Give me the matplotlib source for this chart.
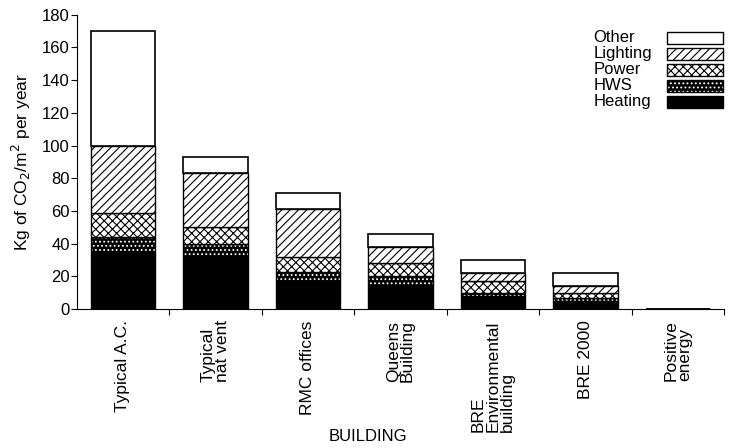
import numpy as np
import matplotlib.pyplot as plt
from matplotlib.patches import Rectangle

plt.rcParams['font.family'] = ['Liberation Sans', 'DejaVu Sans']

buildings = ['Typical A.C.', 'Typical\nnat vent', 'RMC offices', 'Queens\nBuilding',
             'BRE\nEnvironmental\nbuilding', 'BRE 2000', 'Positive\nenergy']
heating = [35, 32, 17, 15, 8, 5, 0]
hws = [9, 8, 6, 5, 2, 2, 0]
power = [15, 10, 9, 8, 7, 3, 0]
lighting = [41, 33, 29, 10, 5, 4, 0]
other = [70, 10, 10, 8, 8, 8, 0]
yticks = [0, 20, 40, 60, 80, 100, 120, 140, 160, 180]


def legend_box(ax, y, label, **kw):
    # one row of the hand-made legend, in axes fraction
    ax.add_patch(Rectangle((0.912, y - 0.02), 0.086, 0.04, transform=ax.transAxes,
                           clip_on=False, **kw))
    ax.text(0.798, y, label, transform=ax.transAxes, ha='left', va='center', fontsize=12)


def main():
    fig = plt.figure(figsize=(7.3, 4.48), dpi=100)
    ax = fig.add_axes([0.105, 0.31, 0.887, 0.657])
    x = np.arange(len(buildings))
    w = 0.7
    plt.rcParams['hatch.linewidth'] = 0.8

    bottom = np.zeros(len(buildings))
    # heating - solid black
    ax.bar(x, heating, w, bottom=bottom, color='black', edgecolor='black', linewidth=1)
    bottom += heating
    # HWS - black with white speckle
    ax.bar(x, hws, w, bottom=bottom, color='black', edgecolor='white', hatch='....', linewidth=0)
    ax.bar(x, hws, w, bottom=bottom, fill=False, edgecolor='black', linewidth=1)
    bottom += hws
    # power - cross hatch
    ax.bar(x, power, w, bottom=bottom, color='white', edgecolor='black', hatch='xxxx', linewidth=1)
    bottom += power
    # lighting - diagonal
    ax.bar(x, lighting, w, bottom=bottom, color='white', edgecolor='black', hatch='////', linewidth=1)
    bottom += lighting
    # other - white
    ax.bar(x, other, w, bottom=bottom, color='white', edgecolor='black', linewidth=1.2)

    ax.set_xlim(-0.5, 6.5)
    ax.set_ylim(0, 180)
    ax.set_yticks(yticks)
    ax.tick_params(axis='y', labelsize=12, length=4, direction='out', pad=1)
    ax.set_xticks(x + 0.5)
    ax.set_xticklabels([])
    ax.set_xticks(x, minor=True)
    ax.set_xticklabels(buildings, minor=True, rotation=90, va='top', ha='center',
                       multialignment='left', fontsize=12.5, linespacing=0.95)
    ax.tick_params(axis='x', which='minor', length=0, pad=8)
    ax.tick_params(axis='x', which='major', length=4, direction='out')
    for s in ['top', 'right']:
        ax.spines[s].set_visible(False)

    ax.set_ylabel('Kg of CO$_2$/m$^2$ per year', fontsize=12.5, labelpad=6)
    fig.text(0.504, 0.008, 'BUILDING', ha='center', va='bottom', fontsize=12)

    legend_box(ax, 0.922, 'Other', facecolor='white', edgecolor='black', linewidth=1)
    legend_box(ax, 0.867, 'Lighting', facecolor='white', edgecolor='black', hatch='////', linewidth=1)
    legend_box(ax, 0.813, 'Power', facecolor='white', edgecolor='black', hatch='xxxx', linewidth=1)
    ax.add_patch(Rectangle((0.912, 0.759 - 0.02), 0.086, 0.04, transform=ax.transAxes,
                           clip_on=False, facecolor='black', edgecolor='white', hatch='....',
                           linewidth=0))
    legend_box(ax, 0.759, 'HWS', fill=False, edgecolor='black', linewidth=1)
    legend_box(ax, 0.704, 'Heating', facecolor='black', edgecolor='black', linewidth=1)

    fig.savefig('out.png', dpi=100)
    return 0


if __name__ == '__main__':
    main()
